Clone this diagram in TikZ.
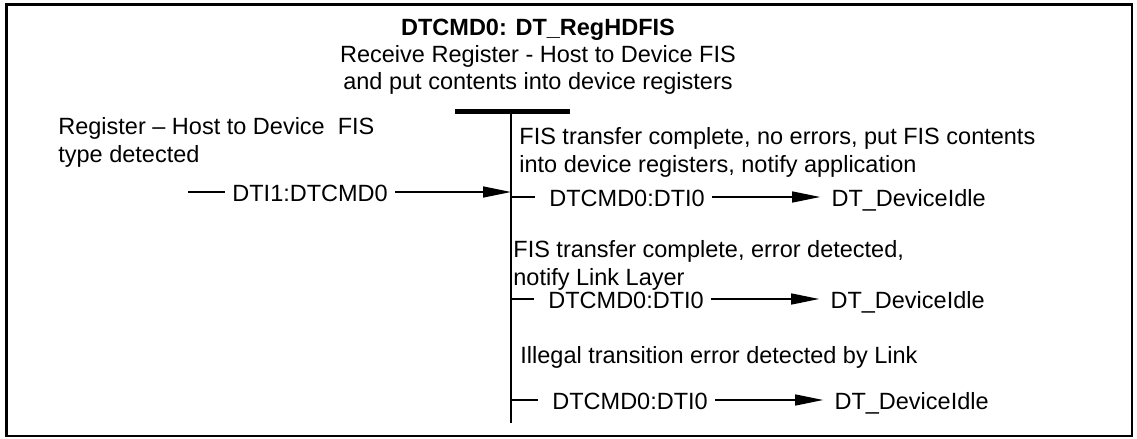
\documentclass[tikz,border=0pt]{standalone}
\usepackage{fontspec}
\setmainfont{Liberation Sans}
\usepackage{tikz}
\usetikzlibrary{arrows.meta, positioning}

\begin{document}
\begin{tikzpicture}[
        x=0.5pt, y=-0.5pt,
        node distance=56pt,
        txt/.style={inner sep=0pt, align=left, font=\fontsize{11.75}{13.75}\selectfont},
        trans/.style={inner sep=0pt, inner xsep=3.5pt, text height=9pt, text depth=0pt, font=\fontsize{11.75}{13.75}\selectfont},
        line/.style={line width=0.75pt},
        arrow/.style={-{Triangle[length=14pt, width=5.5pt]}, line width=0.75pt}
    ]
        \useasboundingbox (0,0) rectangle (1137,439);
        \draw[line width=1.25pt] (6.5,4.5) rectangle (1132,436);
        \node[txt, align=center, anchor=base] (st) at (538,90) {\textbf{DTCMD0: DT\_RegHDFIS}\\Receive Register - Host to Device FIS\\and put contents into device registers};
        \coordinate (barl) at (455,111);
        \coordinate (barr) at (570,111);
        \coordinate (vtop) at (511,111);
        \coordinate (vbot) at (511,423);
        \draw[line width=2.5pt] (barl) -- (barr);
        \draw[line width=1pt] (vtop) -- (vbot);
        \node[txt, anchor=base west] (c0) at (58,162) {Register -- Host to Device~ FIS\\type detected};
        \node[trans, anchor=west] (d0) at (225,192) {DTI1:DTCMD0};
        \coordinate (d0in) at (188,192);
        \draw[line] (d0in) -- (d0.west);
        \draw[arrow] (d0.east) -- (d0.east -| vtop);
        \node[txt, anchor=base west] (c1) at (519,172) {FIS transfer complete, no errors, put FIS contents\\into device registers, notify application};
        \node[trans, anchor=west] (d1) at (542,197) {DTCMD0:DTI0};
        \node[trans, right=of d1] (e1) {DT\_DeviceIdle};
        \node[txt, anchor=base west] (c2) at (513,285) {FIS transfer complete, error detected,\\notify Link Layer};
        \node[trans, anchor=west] (d2) at (541,299) {DTCMD0:DTI0};
        \node[trans, right=of d2] (e2) {DT\_DeviceIdle};
        \node[txt, anchor=base west] (c3) at (520,363) {Illegal transition error detected by Link};
        \node[trans, anchor=west] (d3) at (545,400) {DTCMD0:DTI0};
        \node[trans, right=of d3] (e3) {DT\_DeviceIdle};
        \draw[line, shorten >=3.5pt] (d1.west -| vtop) -- (d1.west);
        \draw[line, shorten >=3.5pt] (d2.west -| vtop) -- (d2.west);
        \draw[line, shorten >=3.5pt] (d3.west -| vtop) -- (d3.west);
        \draw[arrow, shorten >=2pt] (d1) -- (e1);
        \draw[arrow, shorten >=2pt] (d2) -- (e2);
        \draw[arrow, shorten >=2pt] (d3) -- (e3);
    \end{tikzpicture}
\end{document}
